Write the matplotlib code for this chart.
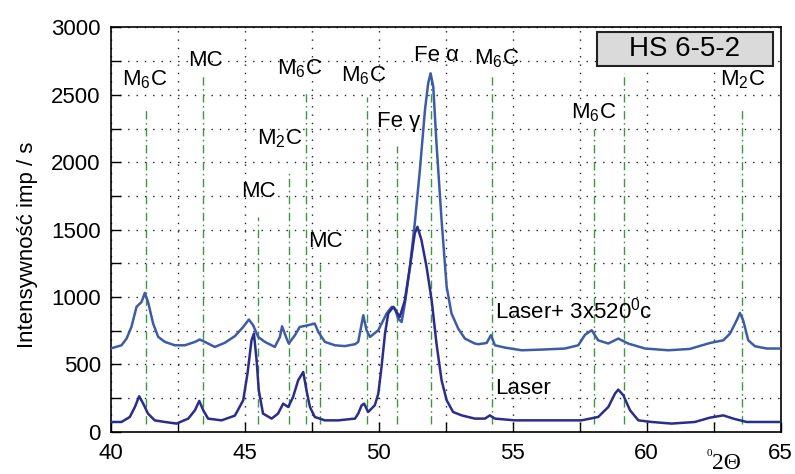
import matplotlib
matplotlib.use("Agg")
import matplotlib.pyplot as plt
from matplotlib.patches import Rectangle

plt.rcParams['font.family'] = ['Liberation Sans', 'DejaVu Sans']
plt.rcParams['mathtext.fontset'] = 'custom'
plt.rcParams['mathtext.rm'] = 'Liberation Sans'
plt.rcParams['mathtext.it'] = 'Liberation Sans'
plt.rcParams['mathtext.default'] = 'regular'

# Laser + 3x520 C tempering (upper pattern)
theta_temp = [40.00, 40.41, 40.60, 40.78, 40.97, 41.16, 41.28, 41.40, 41.59, 41.78,
              42.03, 42.40, 42.77, 43.15, 43.33, 43.52, 43.89, 44.26, 44.64, 44.95,
              45.16, 45.32, 45.51, 45.76, 46.13, 46.32, 46.40, 46.57, 46.65, 46.88,
              47.06, 47.37, 47.62, 47.75, 48.00, 48.37, 48.74, 49.12, 49.24, 49.37,
              49.43, 49.55, 49.68, 49.99, 50.30, 50.49, 50.61, 50.73, 50.86, 50.98,
              51.17, 51.35, 51.54, 51.73, 51.85, 51.94, 52.04, 52.16, 52.35, 52.54,
              52.72, 52.97, 53.22, 53.59, 53.72, 54.03, 54.19, 54.34, 54.71, 55.34,
              56.08, 56.95, 57.45, 57.70, 57.95, 58.19, 58.57, 58.94, 59.31, 59.94,
              60.81, 61.61, 62.36, 62.86, 63.11, 63.36, 63.48, 63.60, 63.79, 64.04,
              64.48, 65.00]
int_temp = [618, 642, 692, 778, 927, 964, 1031, 964, 803, 704,
            667, 642, 642, 667, 685, 667, 630, 660, 710, 778,
            833, 791, 704, 667, 630, 704, 783, 692, 655, 717,
            778, 791, 803, 741, 667, 642, 636, 650, 667, 803,
            865, 754, 704, 754, 878, 927, 915, 840, 815, 952,
            1224, 1546, 1942, 2387, 2586, 2660, 2560, 2140, 1570, 1075,
            878, 766, 692, 655, 650, 659, 717, 642, 625, 605,
            610, 618, 642, 720, 754, 679, 655, 692, 655, 618,
            605, 615, 659, 679, 729, 828, 882, 828, 679, 635,
            618, 618]

# Laser only (lower pattern)
theta_laser = [40.00, 40.41, 40.72, 40.91, 41.07, 41.22, 41.40, 41.65, 42.03, 42.46,
               42.90, 43.15, 43.31, 43.46, 43.64, 44.14, 44.64, 44.95, 45.11, 45.26,
               45.35, 45.45, 45.53, 45.69, 46.01, 46.25, 46.44, 46.63, 46.81, 47.00,
               47.19, 47.31, 47.44, 47.62, 48.00, 48.49, 49.12, 49.24, 49.37, 49.46,
               49.61, 49.86, 49.99, 50.11, 50.24, 50.36, 50.55, 50.67, 50.79, 50.98,
               51.17, 51.35, 51.45, 51.60, 51.79, 51.98, 52.16, 52.35, 52.54, 52.78,
               53.10, 53.59, 53.97, 54.15, 54.34, 55.09, 56.33, 57.57, 58.19, 58.57,
               58.82, 58.94, 59.13, 59.38, 59.69, 60.19, 60.93, 61.80, 62.36, 62.86,
               63.23, 63.73, 65.00]
int_laser = [73, 73, 110, 184, 264, 209, 135, 85, 73, 61,
             98, 160, 229, 160, 98, 85, 120, 234, 432, 679,
             729, 531, 308, 135, 98, 135, 209, 184, 258, 382,
             444, 308, 184, 110, 85, 85, 98, 135, 197, 209,
             147, 197, 284, 481, 729, 878, 927, 890, 852, 976,
             1224, 1472, 1521, 1422, 1224, 976, 655, 382, 234, 147,
             122, 98, 98, 122, 98, 85, 85, 85, 110, 184,
             284, 313, 271, 160, 85, 73, 61, 73, 105, 122,
             98, 73, 73]

# phase reference lines (2theta, top of line)
ref_theta = [41.33, 43.44, 45.50, 46.64, 47.30, 47.80, 49.56, 50.68, 51.95,
             54.24, 58.03, 59.14, 63.57]
ref_top = [2413, 2643, 1596, 1938, 2527, 1247, 2482, 2124, 2658,
           2651, 2250, 2660, 2405]

# phase labels and where they sit
phase_labels = ['M$_6$C', 'MC', 'MC', 'M$_2$C', 'M$_6$C', 'MC', 'M$_6$C',
                'Fe γ', 'Fe α', 'M$_6$C', 'M$_6$C', 'M$_2$C']
label_pos = [(41.28, 2573), (43.53, 2716), (45.52, 1739), (46.31, 2133),
             (47.06, 2655), (48.03, 1372), (49.44, 2598), (50.76, 2259),
             (52.17, 2753), (54.41, 2729), (58.01, 2325), (63.59, 2573)]

fig = plt.figure(figsize=(7.95, 4.74), dpi=100)
ax = fig.add_axes([0.139, 0.089, 0.843, 0.853])

for t, top in zip(ref_theta, ref_top):
    ax.plot([t, t], [60, top], color='#3c9a3c', lw=1.0,
            linestyle=(0, (6, 2.5, 1.2, 2.5)), zorder=2)

ax.plot(theta_temp, int_temp, color='#3d5ca8', lw=1.8, zorder=3)
ax.plot(theta_laser, int_laser, color='#2a2d8c', lw=1.8, zorder=3)

for lab, (x, y) in zip(phase_labels, label_pos):
    ax.text(x, y, lab, fontsize=16, ha='center', va='baseline', zorder=5)

ax.text(54.34, 843, 'Laser+ 3x520$^{0}$c', fontsize=16, ha='left', va='baseline')
ax.text(54.34, 278, 'Laser', fontsize=16, ha='left', va='baseline')

# sample name box
ax.add_patch(Rectangle((58.15, 2714), 6.56, 252, facecolor='#dadada',
                       edgecolor='#222222', lw=1.5, zorder=6))
ax.text(61.43, 2840, 'HS 6-5-2', fontsize=20, ha='center', va='center', zorder=7)

# x axis label
ax.text(62.44, -275, '2Θ', fontsize=17, family='Liberation Serif',
        ha='left', va='baseline', clip_on=False)
ax.text(62.22, -180, '0', fontsize=8, family='Liberation Serif',
        ha='left', va='baseline', clip_on=False)

ax.set_xlim(40, 65)
ax.set_ylim(0, 3000)
ax.set_xticks([40 + 2.5 * i for i in range(11)])
ax.set_xticklabels([str(40 + 5 * (i // 2)) if i % 2 == 0 else '' for i in range(11)])
ax.set_yticks([250 * i for i in range(13)])
ax.set_yticklabels([str(250 * i) if i % 2 == 0 else '' for i in range(13)])
ax.tick_params(direction='in', length=7, width=1, labelsize=16, pad=7)
ax.tick_params(axis='x', pad=8)
ax.grid(True, color='#222222', linestyle=(0, (1, 5)), lw=1)
for s in ax.spines.values():
    s.set_linewidth(1.2)

fig.text(28 / 795, 1 - 245 / 474, 'Intensywność imp / s', rotation=90,
         fontsize=16, ha='center', va='center')

fig.savefig('out.png', dpi=100)
